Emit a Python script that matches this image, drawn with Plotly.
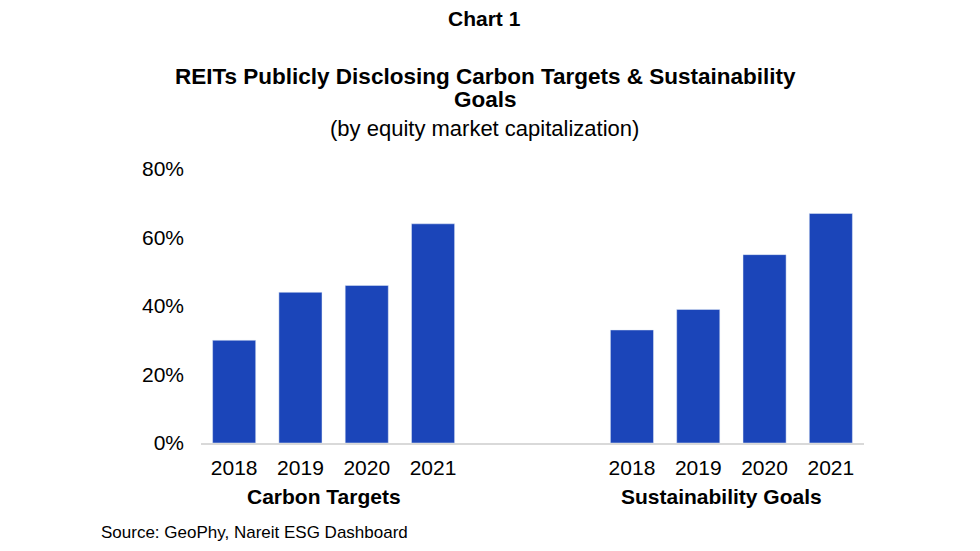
import plotly.graph_objects as go

years = ["2018", "2019", "2020", "2021"]
groups = ["Carbon Targets", "Sustainability Goals"]
carbon_targets = [30, 44, 46, 64]
sustainability_goals = [33, 39, 55, 67]
y_ticks = [0, 20, 40, 60, 80]

BLUE = "#1B45B9"
FONT = "Liberation Sans, Arial, sans-serif"
GAP = 2  # empty slots between the two groups

x_ct = list(range(len(years)))
x_sg = [len(years) + GAP + i for i in range(len(years))]

fig = go.Figure()
fig.add_trace(go.Bar(x=x_ct, y=carbon_targets, marker_color=BLUE, width=0.65,
                     name=groups[0], showlegend=False))
fig.add_trace(go.Bar(x=x_sg, y=sustainability_goals, marker_color=BLUE, width=0.65,
                     name=groups[1], showlegend=False))

OFF = 8  # page body margin
W, H = 964, 535
L = 201 - OFF
T = 169 - OFF
B = H - (443 - OFF)
R = W - (864 - OFF)
ph = H - T - B
pw = W - L - R

def py(ypix):
    return (443 - ypix) / ph

def px(xpix):
    return (xpix - 201) / pw

annotations = [
    dict(text="<b>Chart 1</b>", x=px(484), y=py(19), size=21),
    dict(text="<b>REITs Publicly Disclosing Carbon Targets &amp; Sustainability</b>", x=px(485), y=py(77), size=22.5),
    dict(text="<b>Goals</b>", x=px(485), y=py(100), size=22.5),
    dict(text="(by equity market capitalization)", x=px(484), y=py(128), size=22),
]
anns = []
for a in annotations:
    anns.append(dict(text=a["text"], x=a["x"], y=a["y"], xref="paper", yref="paper",
                     xanchor="center", yanchor="middle", showarrow=False,
                     font=dict(family=FONT, size=a["size"], color="#000000")))

# group labels
for g, xs in zip(groups, [x_ct, x_sg]):
    anns.append(dict(text="<b>" + g + "</b>", x=sum(xs) / len(xs) - 0.15, y=py(496), xref="x", yref="paper",
                     xanchor="center", yanchor="middle", showarrow=False,
                     font=dict(family=FONT, size=21, color="#000000")))

anns.append(dict(text="Source: GeoPhy, Nareit ESG Dashboard", x=px(99), y=py(532),
                 xref="paper", yref="paper", xanchor="left", yanchor="middle", showarrow=False,
                 font=dict(family=FONT, size=17, color="#000000")))

fig.update_layout(
    width=W, height=H,
    margin=dict(l=L, r=R, t=T, b=B, pad=0),
    paper_bgcolor="white", plot_bgcolor="white",
    annotations=anns,
    xaxis=dict(range=[-0.5, x_sg[-1] + 0.5], tickvals=x_ct + x_sg, ticktext=years + years,
               showgrid=False, zeroline=False, showline=True, linecolor="#D9D9D9", linewidth=2,
               ticks="", tickfont=dict(family=FONT, size=21, color="#000000"),
               ticklabelstandoff=5, fixedrange=True),
    yaxis=dict(range=[0, 80], tickvals=y_ticks, ticktext=[f"{v}%" for v in y_ticks],
               showgrid=False, zeroline=False, showline=False, ticks="",
               tickfont=dict(family=FONT, size=21, color="#000000"),
               ticklabelstandoff=16, fixedrange=True),
)

fig.write_html("out.html")
